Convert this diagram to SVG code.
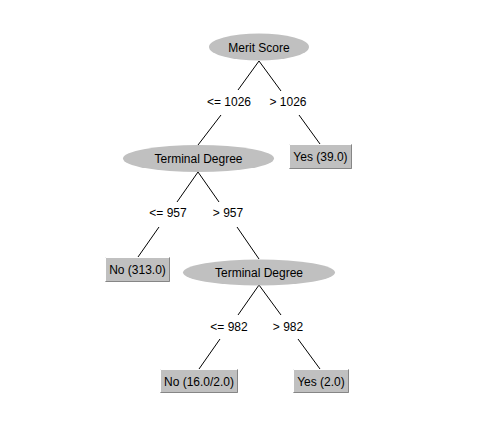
<svg xmlns="http://www.w3.org/2000/svg" width="502" height="440" viewBox="0 0 502 440">
<style>
text{font-family:"Liberation Sans",Arial,sans-serif;font-size:12px;fill:#000;text-anchor:middle}
.node{fill:#c0c0c0;stroke:none}
.leaf{fill:#c0c0c0;stroke:none}
.hi{fill:none;stroke:#ffffff;stroke-width:1}
.lo{fill:none;stroke:#868686;stroke-width:1}
.edge{stroke:#000;stroke-width:1;fill:none}
</style>
<rect x="0" y="0" width="502" height="440" fill="#ffffff"/>
<g id="connectors">
<line class="edge" x1="259" y1="61" x2="238" y2="90"/>
<line class="edge" x1="221" y1="115" x2="198" y2="145"/>
<text x="229" y="106">&lt;= 1026</text>
<line class="edge" x1="259" y1="61" x2="281" y2="91"/>
<line class="edge" x1="299" y1="115" x2="320" y2="144"/>
<text x="288" y="106">&gt; 1026</text>
<line class="edge" x1="198" y1="172" x2="177" y2="202"/>
<line class="edge" x1="159" y1="227" x2="138" y2="257"/>
<text x="168" y="217">&lt;= 957</text>
<line class="edge" x1="198" y1="172" x2="219" y2="202"/>
<line class="edge" x1="237" y1="227" x2="259" y2="259"/>
<text x="228" y="217">&gt; 957</text>
<line class="edge" x1="259" y1="285" x2="238" y2="315"/>
<line class="edge" x1="220" y1="339" x2="199" y2="369"/>
<text x="229" y="331">&lt;= 982</text>
<line class="edge" x1="259" y1="285" x2="281" y2="315"/>
<line class="edge" x1="298" y1="339" x2="320" y2="369"/>
<text x="288" y="331">&gt; 982</text>
</g>
<g id="n-merit">
<ellipse class="node" cx="259" cy="47" rx="50" ry="13.5"/>
<text x="259" y="51.5">Merit Score</text>
</g>
<g id="n-terminal1">
<ellipse class="node" cx="198.5" cy="158.5" rx="75.5" ry="13.5"/>
<text x="198.5" y="163">Terminal Degree</text>
</g>
<g id="n-yes39">
<rect class="leaf" x="289" y="144" width="63" height="25"/>
<path class="hi" d="M289.5,168.5 V144.5 H351.5"/>
<path class="lo" d="M289.5,168.5 H351.5 V144.5"/>
<text x="320.5" y="161">Yes (39.0)</text>
</g>
<g id="n-no313">
<rect class="leaf" x="105" y="257" width="65" height="25"/>
<path class="hi" d="M105.5,281.5 V257.5 H169.5"/>
<path class="lo" d="M105.5,281.5 H169.5 V257.5"/>
<text x="137.5" y="274">No (313.0)</text>
</g>
<g id="n-terminal2">
<ellipse class="node" cx="259" cy="272.5" rx="76" ry="13"/>
<text x="259" y="277">Terminal Degree</text>
</g>
<g id="n-no16">
<rect class="leaf" x="160" y="369" width="78" height="24"/>
<path class="hi" d="M160.5,392.5 V369.5 H237.5"/>
<path class="lo" d="M160.5,392.5 H237.5 V369.5"/>
<text x="199" y="385.5">No (16.0/2.0)</text>
</g>
<g id="n-yes2">
<rect class="leaf" x="293" y="369" width="56" height="24"/>
<path class="hi" d="M293.5,392.5 V369.5 H348.5"/>
<path class="lo" d="M293.5,392.5 H348.5 V369.5"/>
<text x="321" y="385.5">Yes (2.0)</text>
</g>
</svg>
